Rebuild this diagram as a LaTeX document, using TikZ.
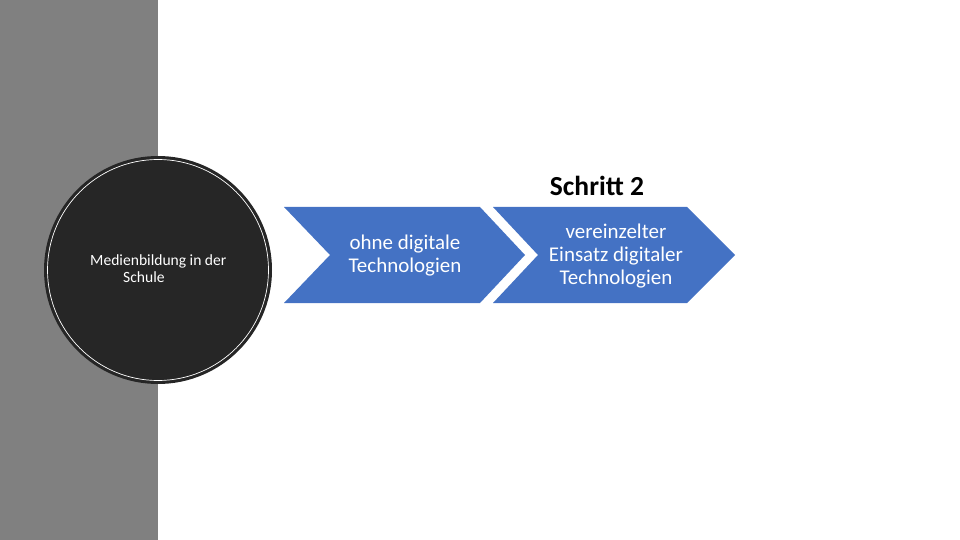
\documentclass[tikz,border=0pt]{standalone}
\usepackage{fontspec}
\setmainfont{Carlito}
\usetikzlibrary{positioning,calc}
\definecolor{band}{HTML}{808080}
\definecolor{dark}{HTML}{262626}
\definecolor{acc}{HTML}{4472C4}
\tikzset{
  chev/.style={fill=acc,draw=none},
  ctext/.style={text=white,align=center,inner sep=0pt,font=\fontsize{17.9}{19.6}\selectfont},
  rtext/.style={text=white,align=left,inner sep=0pt,font=\fontsize{13.3}{14.5}\selectfont},
}
\begin{document}
\begin{tikzpicture}[x=0.03cm,y=-0.03cm]
\useasboundingbox (0,0) rectangle (960,540);
\fill[band] (0,0) rectangle (158,540);
% circle
\fill[dark] (158,270) circle[radius=114];
\draw[white,line width=0.6pt] (158,270) circle[radius=110.5];
\node[rtext,anchor=west] (rund) at (90,269) {Medienbildung in der\\\hspace*{0.99cm}Schule};
% chevrons
\fill[chev] (284,207) -- (480,207) -- (525,255) -- (480,303) -- (284,303) -- (330,255) -- cycle;
\fill[chev] (493,207) -- (687,207) -- (735,255) -- (687,303) -- (493,303) -- (538,255) -- cycle;
\node[ctext] (ohne) at (405,256) {ohne digitale\\Technologien};
\node[ctext] (einz) at (616,256) {vereinzelter\\Einsatz digitaler\\Technologien};
\node[font=\fontsize{23.5}{26}\selectfont\bfseries,inner sep=0pt] (schritt) at (597,186) {Schritt 2};
\end{tikzpicture}
\end{document}
